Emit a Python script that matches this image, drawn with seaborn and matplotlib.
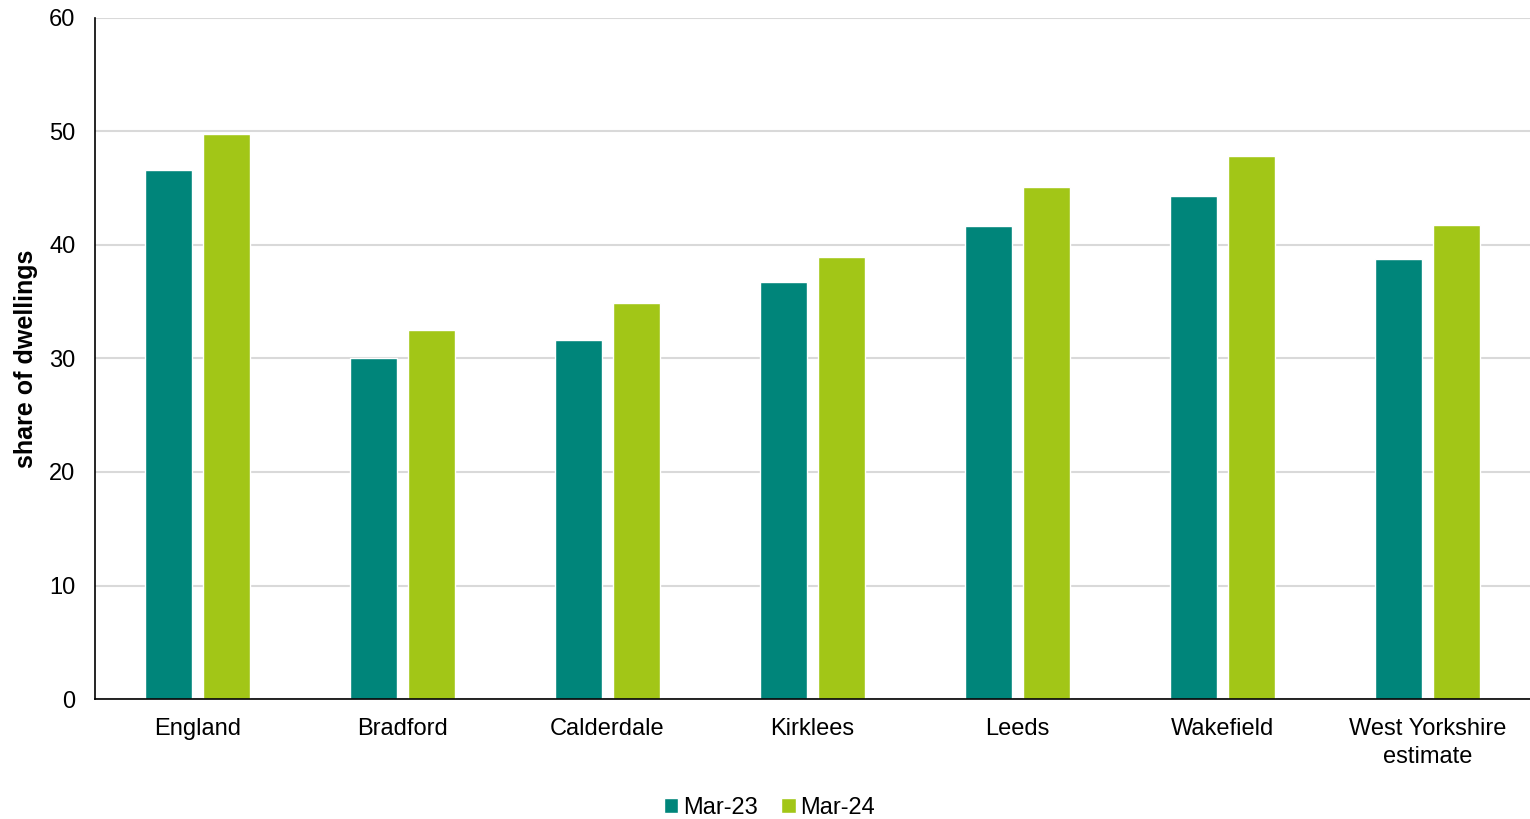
import matplotlib
matplotlib.use("Agg")
import matplotlib.pyplot as plt
import seaborn as sns
import pandas as pd

areas = ["England", "Bradford", "Calderdale", "Kirklees", "Leeds", "Wakefield",
         "West Yorkshire\nestimate"]
mar23 = [46.6, 30.0, 31.6, 36.7, 41.7, 44.3, 38.8]
mar24 = [49.8, 32.5, 34.9, 38.9, 45.1, 47.8, 41.8]
periods = ["Mar-23", "Mar-24"]
colors = ["#00857A", "#A2C617"]

df = pd.DataFrame({
    "area": areas * 2,
    "share": mar23 + mar24,
    "period": [periods[0]] * len(areas) + [periods[1]] * len(areas),
})

sns.set_theme(style="white")
plt.rcParams["font.family"] = ["Liberation Sans", "DejaVu Sans"]
plt.rcParams["text.color"] = "black"

fig = plt.figure(figsize=(15.3, 8.19), dpi=100)
ax = fig.add_axes([95 / 1530, 1 - 699 / 819, 1 - 95 / 1530, (699 - 18) / 819])

sns.barplot(data=df, x="area", y="share", hue="period", order=areas,
            hue_order=periods, palette=colors, width=0.566, gap=0.2,
            saturation=1, ax=ax, legend=True)

ax.set_ylim(0, 60)
ax.set_xlim(-0.5, len(areas) - 0.5)
ax.set_yticks(range(0, 61, 10))
ax.yaxis.grid(True, color="#d9d9d9", linewidth=1.5)
ax.set_axisbelow(True)
for side in ["top", "right"]:
    ax.spines[side].set_visible(False)
for side in ["left", "bottom"]:
    ax.spines[side].set_color("black")
    ax.spines[side].set_linewidth(1.2)
ax.tick_params(axis="both", length=0, labelsize=17, colors="black")
ax.tick_params(axis="y", pad=14)
ax.tick_params(axis="x", pad=14)
for lbl in ax.get_xticklabels():
    lbl.set_linespacing(1.3)
ax.set_xlabel("")
ax.set_ylabel("share of dwellings", fontsize=18, fontweight="bold",
              color="black", labelpad=8)

handles, labels = ax.get_legend_handles_labels()
ax.legend(handles, labels, loc="center", bbox_to_anchor=(0.503, 0.014),
          bbox_transform=fig.transFigure, ncol=2, frameon=False, fontsize=17,
          handlelength=0.6, handleheight=0.6, handletextpad=0.2, columnspacing=1.0,
          labelcolor="black")

fig.savefig("out.png", dpi=100)
